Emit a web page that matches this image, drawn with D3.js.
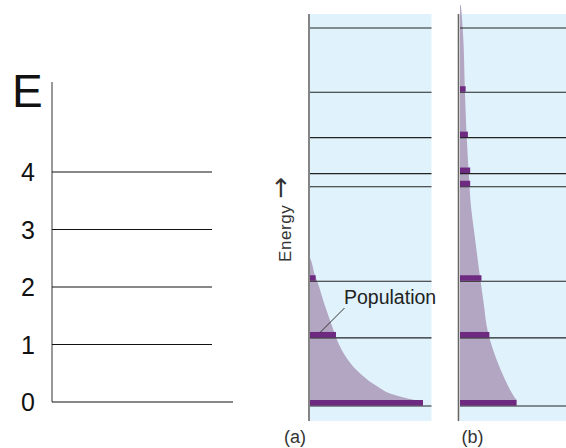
<!DOCTYPE html>
<html>
<head>
<meta charset="utf-8">
<script src="https://cdn.jsdelivr.net/npm/d3@7"></script>
<style>
  html, body { margin: 0; padding: 0; background: #ffffff; }
  svg { display: block; }
  text { font-family: "Liberation Sans", Arial, sans-serif; }
</style>
</head>
<body>
<svg id="chart" width="566" height="448"></svg>
<script>
// ---------- DATA ----------
// Left diagram: equally spaced energy levels
const leftLevels = [0, 1, 2, 3, 4];
const leftLabels = ["0", "1", "2", "3", "4"];
const leftAxisTitle = "E";

// Right diagrams: energy levels (arbitrary units, 0 = ground)
const energyLevels = [0, 18, 33, 58, 61.5, 71, 83, 100];
// Population bars per level (relative units)
const popA = [100, 23, 5, 0, 0, 0, 0, 0];
const popB = [50, 26, 19, 9, 9, 7, 5, 0];
// Population envelope: [energy, population]
const curveA = [[1.2, 100], [1.6, 92.7], [2.9, 75], [5.6, 57.3], [9.1, 42.5], [13.5, 30.7],
                [17.9, 23.3], [19.7, 21.2], [26.7, 13], [32.9, 6.5], [34.7, 4.2], [38.2, 1.2], [39.2, 0]];
const curveB = [[1.6, 50], [3.4, 46], [6.9, 40], [12.2, 32.5], [19.2, 25], [28, 20.6], [34.2, 17.7],
                [45.7, 12.7], [54.5, 9.2], [57.9, 8.5], [71.2, 5.9], [82.8, 4.4], [100, 2.4], [106, 0.8]];
const panelLabels = ["(a)", "(b)"];
const yAxisTitle = "Energy";
const yAxisArrow = "\u2192";
const annotation = "Population";

// ---------- DRAW ----------
const svg = d3.select("#chart");

// Left diagram
const yL = d3.scaleLinear().domain([0, 4]).range([402, 172]);
const gL = svg.append("g");
gL.append("line").attr("x1", 52).attr("x2", 52).attr("y1", 82).attr("y2", yL(0))
  .attr("stroke", "#555").attr("stroke-width", 1.2);
gL.selectAll("line.lvl").data(leftLevels).join("line").attr("class", "lvl")
  .attr("x1", 52).attr("x2", d => d === 0 ? 233 : 212)
  .attr("y1", d => yL(d)).attr("y2", d => yL(d))
  .attr("stroke", "#111").attr("stroke-width", 1);
gL.selectAll("text.lab").data(leftLevels).join("text").attr("class", "lab")
  .attr("x", 28).attr("y", d => yL(d)).attr("dy", "0.36em")
  .attr("text-anchor", "middle").attr("font-size", 25).attr("fill", "#111")
  .text((d, i) => leftLabels[i]);
gL.append("text").attr("x", 12).attr("y", 107).attr("font-size", 46).attr("fill", "#111")
  .text(leftAxisTitle);

// Right diagrams
const yR = d3.scaleLinear().domain([0, 100]).range([406, 28]);
const panels = [
  { x0: 310, x1: 431.5, axisX: 309, pop: popA, curve: curveA, label: panelLabels[0], lx: 295 },
  { x0: 460, x1: 566, axisX: 458.5, pop: popB, curve: curveB, label: panelLabels[1], lx: 472.5 }
];

const blue = "#e0f2fb", shade = "#b2a6c3", barCol = "#6e2a80";

panels.forEach(p => {
  const g = svg.append("g");
  const x = d3.scaleLinear().domain([0, 100]).range([p.x0, p.x0 + 113]);
  g.append("rect").attr("x", p.x0).attr("y", 14).attr("width", p.x1 - p.x0).attr("height", 407)
    .attr("fill", blue);
  // envelope
  g.append("path").datum(p.curve)
    .attr("d", d3.area().y(d => yR(d[0])).x0(x(0)).x1(d => x(d[1])).curve(d3.curveMonotoneY))
    .attr("fill", shade);
  // fill below first curve point down to the ground level
  g.append("rect").attr("x", x(0)).attr("y", yR(p.curve[0][0]) - 0.5)
    .attr("width", x(p.curve[0][1]) - x(0)).attr("height", yR(0) - yR(p.curve[0][0]) + 0.5)
    .attr("fill", shade);
  // level lines
  g.selectAll("line.lvl").data(energyLevels).join("line").attr("class", "lvl")
    .attr("x1", p.x0).attr("x2", p.x1)
    .attr("y1", d => yR(d)).attr("y2", d => yR(d))
    .attr("stroke", "#222").attr("stroke-width", 1.2);
  // population bars
  g.selectAll("rect.bar").data(energyLevels.map((e, i) => ({ e, v: p.pop[i] })).filter(d => d.v > 0))
    .join("rect").attr("class", "bar")
    .attr("x", x(0)).attr("y", d => yR(d.e) - 6)
    .attr("width", d => x(d.v) - x(0)).attr("height", 5.5)
    .attr("fill", barCol);
  // axis line
  g.append("line").attr("x1", p.axisX).attr("x2", p.axisX).attr("y1", 14).attr("y2", 421)
    .attr("stroke", "#666").attr("stroke-width", 1.6);
  g.append("text").attr("x", p.lx).attr("y", 443).attr("text-anchor", "middle")
    .attr("font-size", 18).attr("fill", "#333").text(p.label);
});

// Energy axis title
const et = svg.append("text").attr("transform", "translate(290.5,262) rotate(-90)")
  .attr("text-anchor", "start").attr("font-size", 17).attr("letter-spacing", 0.6).attr("fill", "#333");
et.append("tspan").text(yAxisTitle);
et.append("tspan").attr("dx", 6).attr("dy", -1.5).attr("font-family", "DejaVu Sans")
  .attr("font-size", 26).attr("letter-spacing", 0).text(yAxisArrow);

// Population annotation
svg.append("line").attr("x1", 344.5).attr("y1", 308).attr("x2", 319.5).attr("y2", 333)
  .attr("stroke", "#333").attr("stroke-width", 1);
svg.append("text").attr("x", 344).attr("y", 304).attr("font-size", 19.5).attr("fill", "#222")
  .text(annotation);
</script>
</body>
</html>
